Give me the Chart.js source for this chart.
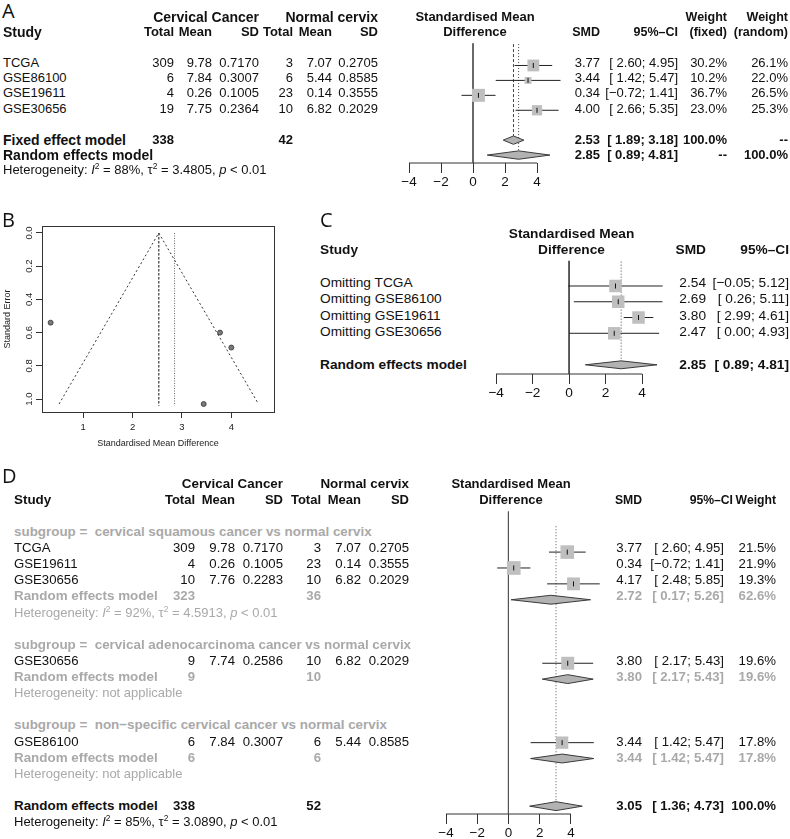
<!DOCTYPE html>
<html>
<head>
<meta charset="utf-8">
<script src="https://cdn.jsdelivr.net/npm/chart.js"></script>
<style>
  html, body { margin: 0; padding: 0; background: #fff; }
  body { position: relative; width: 790px; height: 839px; overflow: hidden;
         font-family: "Liberation Sans", Arial, Helvetica, sans-serif; color: #111; }
  .t { position: absolute; white-space: pre; line-height: 20px; }
  .lab { position: absolute; font-family: "Open Sans", sans-serif; font-size: 20px; line-height: 24px; color: #111; }
  sup { font-size: 0.65em; line-height: 0; vertical-align: 0.6em; }
  canvas { position: absolute; }
</style>
</head>
<body>
<canvas id="forestA"></canvas>
<canvas id="funnelB"></canvas>
<canvas id="forestC"></canvas>
<canvas id="forestD"></canvas>
<script>
// ---- panel A : meta-analysis ----
const studiesA = ["TCGA", "GSE86100", "GSE19611", "GSE30656"];
const caTotalA = [309, 6, 4, 19];
const caMeanA = ["9.78", "7.84", "0.26", "7.75"];
const caSdA = ["0.7170", "0.3007", "0.1005", "0.2364"];
const ncTotalA = [3, 6, 23, 10];
const ncMeanA = ["7.07", "5.44", "0.14", "6.82"];
const ncSdA = ["0.2705", "0.8585", "0.3555", "0.2029"];
const smdA = [3.77, 3.44, 0.34, 4.00];
const lowA = [2.60, 1.42, -0.72, 2.66];
const highA = [4.95, 5.47, 1.41, 5.35];
const wFixedA = [30.2, 10.2, 36.7, 23.0];
const wRandomA = [26.1, 22.0, 26.5, 25.3];
const fixedA = [2.53, 1.89, 3.18];   // estimate, lower, upper
const randomA = [2.85, 0.89, 4.81];

// ---- panel B : funnel plot ----
const seB = [0.60, 1.03, 0.54, 0.69];
const funnelApex = 2.53;
const funnelSeMax = 1.03;
const funnelLeft = 0.51;
const funnelRight = 4.55;

// ---- panel C : leave-one-out ----
const omittedC = ["TCGA", "GSE86100", "GSE19611", "GSE30656"];
const smdC = [2.54, 2.69, 3.80, 2.47];
const lowC = [-0.05, 0.26, 2.99, 0.00];
const highC = [5.12, 5.11, 4.61, 4.93];
const randomC = [2.85, 0.89, 4.81];

// ---- panel D : subgroups ----
const subgroupsD = ["cervical squamous cancer vs normal cervix",
                    "cervical adenocarcinoma cancer vs normal cervix",
                    "non\u2212specific cervical cancer vs normal cervix"];
const studiesD = ["TCGA", "GSE19611", "GSE30656", "GSE30656", "GSE86100"];
const groupD = [0, 0, 0, 1, 2];
const caTotalD = [309, 4, 10, 9, 6];
const caMeanD = ["9.78", "0.26", "7.76", "7.74", "7.84"];
const caSdD = ["0.7170", "0.1005", "0.2283", "0.2586", "0.3007"];
const ncTotalD = [3, 23, 10, 10, 6];
const ncMeanD = ["7.07", "0.14", "6.82", "6.82", "5.44"];
const ncSdD = ["0.2705", "0.3555", "0.2029", "0.2029", "0.8585"];
const smdD = [3.77, 0.34, 4.17, 3.80, 3.44];
const lowD = [2.60, -0.72, 2.48, 2.17, 1.42];
const highD = [4.95, 1.41, 5.85, 5.43, 5.47];
const weightD = [21.5, 21.9, 19.3, 19.6, 17.8];
const subEstD = [2.72, 3.80, 3.44];
const subLowD = [0.17, 2.17, 1.42];
const subHighD = [5.26, 5.43, 5.47];
const subWeightD = [62.6, 19.6, 17.8];
const subHetD = ["Heterogeneity: <i>I</i><sup>2</sup> = 92%, \u03c4<sup>2</sup> = 4.5913, <i>p</i> &lt; 0.01",
                 "Heterogeneity: not applicable",
                 "Heterogeneity: not applicable"];
const overallD = [3.05, 1.36, 4.73];

const axisTicks = [-4, -2, 0, 2, 4];

// ---------------------------------------------------------------
const FONT = '"Liberation Sans", Arial, Helvetica, sans-serif';
const W = 790;
const GRAY = "#a9a9a9";
Chart.defaults.font.family = FONT;
Chart.defaults.color = "#111";

function put(x, y, html, o) {
  o = o || {};
  const d = document.createElement("div");
  d.className = "t";
  d.style.fontSize = (o.size || 13) + "px";
  if (o.bold) d.style.fontWeight = "bold";
  if (o.color) d.style.color = o.color;
  d.style.top = (y - 10) + "px";
  if (o.align === "right") d.style.right = (W - x) + "px";
  else if (o.align === "center") { d.style.left = (x - 150) + "px"; d.style.width = "300px"; d.style.textAlign = "center"; }
  else d.style.left = x + "px";
  d.innerHTML = html;
  document.body.appendChild(d);
}
function letter(x, y, s) {
  const d = document.createElement("div");
  d.className = "lab";
  d.style.left = x + "px";
  d.style.top = (y - 12) + "px";
  d.textContent = s;
  document.body.appendChild(d);
}
const f2 = v => (v < 0 ? "\u2212" + Math.abs(v).toFixed(2) : v.toFixed(2));
const ci = (lo, hi) => "[" + (lo < 0 ? "" : " ") + f2(lo) + "; " + f2(hi) + "]";
const pct = w => w.toFixed(1) + "%";
const sum = a => a.reduce((s, v) => s + v, 0);
const R = (o, extra) => Object.assign({align: "right"}, o, extra || {});

// dataset helpers
const seg = (pts, color, dash, width) => ({
  data: pts, showLine: true, borderColor: color, borderWidth: width || 1, borderDash: dash || [],
  pointRadius: 0, fill: false, clip: false, tension: 0
});
const diamond = (est, lo, hi, r, h) => ({
  data: [{x: lo, y: r}, {x: est, y: r - h}, {x: hi, y: r}, {x: est, y: r + h}, {x: lo, y: r}],
  showLine: true, fill: "shape", backgroundColor: "#b2b2b2", borderColor: "#3a3a3a",
  borderWidth: 1, pointRadius: 0, clip: false, tension: 0
});
const squares = (xs, rows, sides) => ({
  data: xs.map((x, i) => ({x: x, y: rows[i]})), showLine: false, pointStyle: "rect",
  pointRadius: sides.map(s => s / Math.SQRT2), backgroundColor: "#bfbfbf", borderWidth: 0, clip: false
});
const marks = (xs, rows) => ({
  data: xs.map((x, i) => ({x: x, y: rows[i]})), showLine: false, pointStyle: "line", rotation: 90,
  pointRadius: 2.5, borderColor: "#111", borderWidth: 1, clip: false
});

function forest(id, g, build) {
  const cv = document.getElementById(id);
  const ppu = (g.x1 - g.x0) / 8;
  const top = g.chartTop - 5;
  cv.width = g.right - g.left;
  cv.height = g.axisY + g.axisH - top;
  cv.style.left = g.left + "px";
  cv.style.top = top + "px";
  const padR = 2;
  const xMax = -4 + (g.right - padR - g.x0) / ppu;
  const yMin = (g.chartTop - g.y0) / g.sp;
  const yMax = (g.axisY - g.y0) / g.sp;
  const datasets = build(yMin, yMax);
  // axis baseline from -4 to 4 (like R)
  datasets.push(seg([{x: axisTicks[0], y: yMax}, {x: axisTicks[axisTicks.length - 1], y: yMax}], "#333"));
  new Chart(cv.getContext("2d"), {
    type: "line",
    data: { datasets: datasets },
    options: {
      responsive: false, animation: false, events: [],
      layout: { padding: { left: g.x0 - g.left, right: padR, top: 5, bottom: 0 } },
      plugins: { legend: { display: false }, tooltip: { enabled: false } },
      scales: {
        x: {
          type: "linear", min: -4, max: xMax, position: "bottom",
          border: { display: false },
          grid: { drawOnChartArea: false, drawTicks: true, tickLength: 10, color: "#333" },
          ticks: { font: { size: g.fs }, color: "#111", padding: 1, maxRotation: 0, autoSkip: false,
                   callback: v => String(v).replace("-", "\u2212") },
          afterBuildTicks: s => { s.ticks = axisTicks.map(v => ({value: v})); },
          afterFit: s => { s.height = g.axisH; }
        },
        y: { type: "linear", display: false, reverse: true, min: yMin, max: yMax }
      }
    }
  });
}

// ================= Panel A =================
const gA = {x0: 409, x1: 541.7, chartTop: 40, axisY: 163, axisH: 30, y0: 62.75, sp: 15.35, left: 393, right: 590, fs: 13.5};
const yA = r => gA.y0 + gA.sp * r;
const aReg = {size: 13}, aLab = {size: 14, bold: true}, aHead = {size: 13, bold: true}, aRH = {size: 12.5, bold: true};
letter(2, 11, "A");
const colsA = [174, 212, 259, 293, 332, 378];
put(259, yA(-3), "Cervical Cancer", R(aLab));
put(378, yA(-3), "Normal cervix", R(aLab));
put(3, yA(-2), "Study", aLab);
["Total", "Mean", "SD", "Total", "Mean", "SD"].forEach((h, i) => put(colsA[i], yA(-2), h, R(aHead)));
put(475, yA(-3), "Standardised Mean", Object.assign({align: "center"}, aHead));
put(475, yA(-2), "Difference", Object.assign({align: "center"}, aHead));
put(600, yA(-2), "SMD", R(aRH));
put(678, yA(-2), "95%\u2013CI", R(aRH));
put(727, yA(-3), "Weight", R(aRH));
put(727, yA(-2), "(fixed)", R(aRH));
put(788, yA(-3), "Weight", R(aRH));
put(788, yA(-2), "(random)", R(aRH));
studiesA.forEach((s, i) => {
  const y = yA(i);
  put(3, y, s, aReg);
  [caTotalA[i], caMeanA[i], caSdA[i], ncTotalA[i], ncMeanA[i], ncSdA[i]].forEach((v, j) => put(colsA[j], y, String(v), R(aReg)));
  put(600, y, smdA[i].toFixed(2), R(aReg));
  put(678, y, ci(lowA[i], highA[i]), R(aReg));
  put(727, y, pct(wFixedA[i]), R(aReg));
  put(788, y, pct(wRandomA[i]), R(aReg));
});
put(3, yA(5), "Fixed effect model", aLab);
put(174, yA(5), String(sum(caTotalA)), R(aHead));
put(293, yA(5), String(sum(ncTotalA)), R(aHead));
put(600, yA(5), fixedA[0].toFixed(2), R(aHead));
put(678, yA(5), ci(fixedA[1], fixedA[2]), R(aHead));
put(727, yA(5), "100.0%", R(aHead));
put(788, yA(5), "--", R(aHead));
put(3, yA(6), "Random effects model", aLab);
put(600, yA(6), randomA[0].toFixed(2), R(aHead));
put(678, yA(6), ci(randomA[1], randomA[2]), R(aHead));
put(727, yA(6), "--", R(aHead));
put(788, yA(6), "100.0%", R(aHead));
put(3, yA(7), "Heterogeneity: <i>I</i><sup>2</sup> = 88%, \u03c4<sup>2</sup> = 3.4805, <i>p</i> &lt; 0.01", {size: 13});

forest("forestA", gA, (yMin, yMax) => {
  const rows = studiesA.map((s, i) => i);
  const wMax = Math.max(...wFixedA);
  const ds = [];
  ds.push(marks(smdA, rows));
  ds.push(squares(smdA, rows, wFixedA.map(w => 13 * Math.sqrt(w / wMax))));
  ds.push(diamond(fixedA[0], fixedA[1], fixedA[2], 5, 0.28));
  ds.push(diamond(randomA[0], randomA[1], randomA[2], 6, 0.28));
  rows.forEach(r => ds.push(seg([{x: lowA[r], y: r}, {x: highA[r], y: r}], "#222")));
  ds.push(seg([{x: fixedA[0], y: yMin + 0.05}, {x: fixedA[0], y: 5 - 0.28}], "#444", [3, 2]));
  ds.push(seg([{x: randomA[0], y: yMin + 0.05}, {x: randomA[0], y: 6 - 0.28}], "#444", [1, 2]));
  ds.push(seg([{x: 0, y: yMin}, {x: 0, y: yMax}], "#555"));
  return ds;
});

// ================= Panel B =================
letter(2, 220, "B");
(function () {
  const cv = document.getElementById("funnelB");
  cv.width = 282; cv.height = 235;
  cv.style.left = "0px"; cv.style.top = "218px";
  const framePlugin = {
    id: "frame",
    afterDraw(chart) {
      const a = chart.chartArea, ctx = chart.ctx;
      ctx.save();
      ctx.strokeStyle = "#333"; ctx.lineWidth = 1;
      ctx.strokeRect(Math.round(a.left) + 0.5, Math.round(a.top) + 0.5, Math.round(a.right - a.left), Math.round(a.bottom - a.top));
      ctx.restore();
    }
  };
  new Chart(cv.getContext("2d"), {
    type: "line",
    data: {
      datasets: [
        { data: smdA.map((x, i) => ({x: x, y: seB[i]})), showLine: false, pointStyle: "circle",
          pointRadius: 2.5, backgroundColor: "#7a7a7a", borderColor: "#333", borderWidth: 0.8, clip: false },
        seg([{x: funnelLeft, y: funnelSeMax}, {x: funnelApex, y: 0}, {x: funnelRight, y: funnelSeMax}], "#333", [2, 2.5]),
        seg([{x: fixedA[0], y: 0}, {x: fixedA[0], y: 1.04}], "#555", [2.5, 1.5], 1.4),
        seg([{x: randomA[0], y: 0}, {x: randomA[0], y: 1.04}], "#666", [1, 1.5])
      ]
    },
    options: {
      responsive: false, animation: false, events: [],
      layout: { padding: { left: 0, right: 8, top: 8, bottom: 0 } },
      plugins: { legend: { display: false }, tooltip: { enabled: false } },
      scales: {
        x: {
          type: "linear", min: 0.165, max: 4.864,
          border: { display: false },
          grid: { drawOnChartArea: false, tickLength: 6, color: "#333" },
          ticks: { stepSize: 1, includeBounds: false, font: { size: 9.5 }, color: "#222", padding: 4, maxRotation: 0 },
          title: { display: true, text: "Standardised Mean Difference", font: { size: 9 }, color: "#222", padding: { top: 0, bottom: 4 } },
          afterFit: s => { s.height = 41; }
        },
        y: {
          type: "linear", reverse: true, min: -0.042, max: 1.078,
          border: { display: false },
          grid: { drawOnChartArea: false, tickLength: 6, color: "#333" },
          ticks: { stepSize: 0.2, includeBounds: false, font: { size: 9.5 }, color: "#222", padding: 0,
                   minRotation: 90, maxRotation: 90, crossAlign: "center", callback: v => v.toFixed(1) },
          title: { display: true, text: "Standard Error", font: { size: 9 }, color: "#222", padding: { top: 2, bottom: 0 } },
          afterFit: s => { s.width = 42; }
        }
      }
    },
    plugins: [framePlugin]
  });
})();

// ================= Panel C =================
const gC = {x0: 496, x1: 647.3, chartTop: 257, axisY: 374, axisH: 30, y0: 283, sp: 16.3, left: 478, right: 700, fs: 13.7};
const yC = r => gC.y0 + gC.sp * r;
const cReg = {size: 13.7}, cB = {size: 13.7, bold: true};
letter(320, 220, "C");
put(571.5, yC(-3), "Standardised Mean", Object.assign({align: "center"}, cB));
put(571.5, yC(-2), "Difference", Object.assign({align: "center"}, cB));
put(320, yC(-2), "Study", cB);
put(706, yC(-2), "SMD", R(cB));
put(789, yC(-2), "95%\u2013CI", R(cB));
omittedC.forEach((s, i) => {
  put(320, yC(i), "Omitting " + s, cReg);
  put(706, yC(i), smdC[i].toFixed(2), R(cReg));
  put(789, yC(i), ci(lowC[i], highC[i]), R(cReg));
});
put(320, yC(5), "Random effects model", cB);
put(706, yC(5), randomC[0].toFixed(2), R(cB));
put(789, yC(5), ci(randomC[1], randomC[2]), R(cB));

forest("forestC", gC, (yMin, yMax) => {
  const rows = omittedC.map((s, i) => i);
  const ds = [];
  ds.push(marks(smdC, rows));
  ds.push(squares(smdC, rows, rows.map(() => 12.5)));
  ds.push(diamond(randomC[0], randomC[1], randomC[2], 5, 0.25));
  rows.forEach(r => ds.push(seg([{x: lowC[r], y: r}, {x: highC[r], y: r}], "#222")));
  ds.push(seg([{x: randomC[0], y: yMin + 0.05}, {x: randomC[0], y: 5 - 0.25}], "#444", [1, 2]));
  ds.push(seg([{x: 0, y: yMin}, {x: 0, y: yMax}], "#444"));
  return ds;
});

// ================= Panel D =================
const gD = {x0: 446, x1: 576, chartTop: 507, axisY: 814, axisH: 25, y0: 532, sp: 16.12, left: 428, right: 640, fs: 13.4};
const yD = r => gD.y0 + gD.sp * r;
const dReg = {size: 13.2}, dB = {size: 13.4, bold: true}, dH = {size: 13, bold: true}, dRH = {size: 12.2, bold: true};
letter(2, 476, "D");
const colsD = [195, 235, 283, 321, 361, 409];
put(283, yD(-3), "Cervical Cancer", R(dB));
put(409, yD(-3), "Normal cervix", R(dB));
put(14, yD(-2), "Study", dB);
["Total", "Mean", "SD", "Total", "Mean", "SD"].forEach((h, i) => put(colsD[i], yD(-2), h, R(dH)));
put(511, yD(-3), "Standardised Mean", Object.assign({align: "center"}, dH));
put(511, yD(-2), "Difference", Object.assign({align: "center"}, dH));
put(642, yD(-2), "SMD", R(dRH));
put(733, yD(-2), "95%\u2013CI", R(dRH));
put(776, yD(-2), "Weight", R(dRH));

// row layout: label, studies, summary, heterogeneity, blank
const studyRowD = [];
const subRowD = [];
let rowD = 0;
subgroupsD.forEach((g, gi) => {
  put(14, yD(rowD), "subgroup =  " + g, Object.assign({color: GRAY}, dB));
  rowD++;
  studiesD.forEach((s, i) => {
    if (groupD[i] !== gi) return;
    studyRowD[i] = rowD;
    const y = yD(rowD);
    put(14, y, s, dReg);
    [caTotalD[i], caMeanD[i], caSdD[i], ncTotalD[i], ncMeanD[i], ncSdD[i]].forEach((v, j) => put(colsD[j], y, String(v), R(dReg)));
    put(642, y, smdD[i].toFixed(2), R(dReg));
    put(724, y, ci(lowD[i], highD[i]), R(dReg));
    put(776, y, pct(weightD[i]), R(dReg));
    rowD++;
  });
  subRowD[gi] = rowD;
  const y = yD(rowD);
  const gOpt = {bold: true, color: GRAY, size: 13.2};
  put(14, y, "Random effects model", Object.assign({}, dB, {color: GRAY}));
  put(195, y, String(sum(caTotalD.filter((v, i) => groupD[i] === gi))), R(gOpt));
  put(321, y, String(sum(ncTotalD.filter((v, i) => groupD[i] === gi))), R(gOpt));
  put(642, y, subEstD[gi].toFixed(2), R(gOpt));
  put(724, y, ci(subLowD[gi], subHighD[gi]), R(gOpt));
  put(776, y, pct(subWeightD[gi]), R(gOpt));
  rowD++;
  put(14, yD(rowD), subHetD[gi], {color: GRAY, size: 13});
  rowD += 2;
});
const overallRowD = rowD;
const dSum = {bold: true, size: 13.2};
put(14, yD(rowD), "Random effects model", dB);
put(195, yD(rowD), String(sum(caTotalD)), R(dSum));
put(321, yD(rowD), String(sum(ncTotalD)), R(dSum));
put(642, yD(rowD), overallD[0].toFixed(2), R(dSum));
put(724, yD(rowD), ci(overallD[1], overallD[2]), R(dSum));
put(776, yD(rowD), "100.0%", R(dSum));
put(14, yD(rowD + 1), "Heterogeneity: <i>I</i><sup>2</sup> = 85%, \u03c4<sup>2</sup> = 3.0890, <i>p</i> &lt; 0.01", {size: 13});

forest("forestD", gD, (yMin, yMax) => {
  const wMax = Math.max(...weightD);
  const ds = [];
  ds.push(marks(smdD, studyRowD));
  ds.push(squares(smdD, studyRowD, weightD.map(w => 13.7 * Math.sqrt(w / wMax))));
  subEstD.forEach((e, gi) => ds.push(diamond(e, subLowD[gi], subHighD[gi], subRowD[gi], 0.28)));
  ds.push(diamond(overallD[0], overallD[1], overallD[2], overallRowD, 0.28));
  studyRowD.forEach((r, i) => ds.push(seg([{x: lowD[i], y: r}, {x: highD[i], y: r}], "#222")));
  ds.push(seg([{x: overallD[0], y: -0.63}, {x: overallD[0], y: overallRowD - 0.28}], "#555", [1, 2]));
  ds.push(seg([{x: 0, y: yMin}, {x: 0, y: yMax}], "#555"));
  return ds;
});
</script>
</body>
</html>
